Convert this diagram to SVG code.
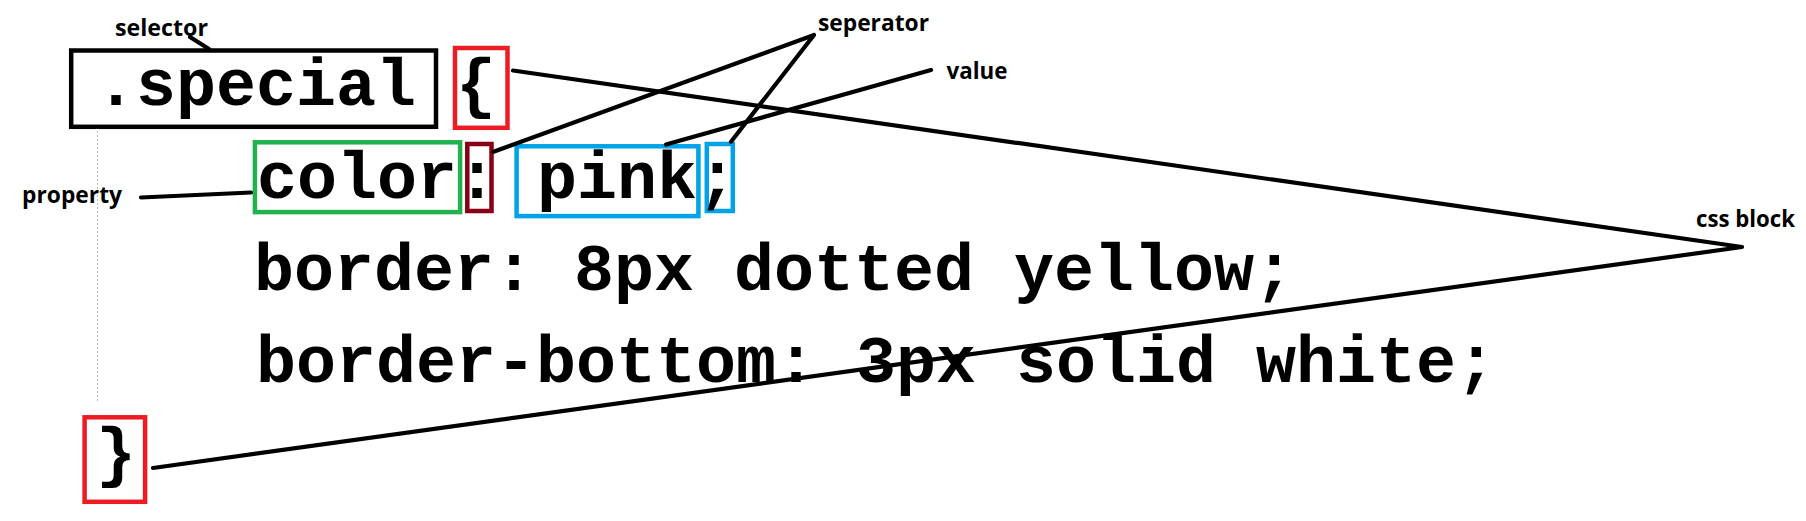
<svg xmlns="http://www.w3.org/2000/svg" width="1806" height="521" viewBox="0 0 1806 521">
<style>
.code{font-family:"Liberation Mono","Courier New",monospace;font-weight:bold;font-size:66.67px;fill:#000}
.lbl{font-family:"Open Sans","Liberation Sans",sans-serif;font-weight:bold;font-size:23px;fill:#000}
.box{fill:none;stroke-width:4.5}
.conn{fill:none;stroke:#000;stroke-width:4.2;stroke-linecap:round;stroke-linejoin:round}
</style>
<rect width="1806" height="521" fill="#fff"/>
<line x1="97.5" y1="131" x2="97.5" y2="403" stroke="#bdbdbd" stroke-width="1" stroke-dasharray="2 2"/>
<g id="selector">
<rect class="box" x="71.2" y="50.5" width="364.8" height="76.3" stroke="#000"/>
<text class="code" x="96" y="105">.special</text>
</g>
<g id="open-brace">
<rect class="box" x="455" y="48" width="52.5" height="79.8" stroke="#ED1C24"/>
<text class="code" x="456" y="105">{</text>
</g>
<g id="property-color">
<rect class="box" x="254.9" y="142.3" width="205.2" height="69.8" stroke="#22B14C"/>
<text class="code" x="257" y="198">color</text>
</g>
<g id="colon">
<rect class="box" x="467.3" y="144" width="24.2" height="67" stroke="#880015"/>
<text class="code" x="457" y="198">:</text>
</g>
<g id="value-pink">
<rect class="box" x="516.6" y="146.3" width="181.8" height="69.8" stroke="#00A2E8"/>
<text class="code" x="537" y="198">pink</text>
</g>
<g id="semicolon">
<rect class="box" x="706.8" y="144" width="26" height="67" stroke="#00A2E8"/>
<text class="code" x="697" y="198">;</text>
</g>
<g id="code-lines">
<text class="code" x="254" y="290">border: 8px dotted yellow;</text>
<text class="code" x="256" y="382">border-bottom: 3px solid white;</text>
</g>
<g id="close-brace">
<rect class="box" x="84.6" y="417.3" width="60.5" height="84.5" stroke="#ED1C24"/>
<text class="code" x="96" y="474">}</text>
</g>
<g id="label-selector"><text class="lbl" x="115" y="36" textLength="93" lengthAdjust="spacingAndGlyphs">selector</text></g>
<g id="label-property"><text class="lbl" x="22" y="203" textLength="100" lengthAdjust="spacingAndGlyphs">property</text></g>
<g id="label-seperator"><text class="lbl" x="818" y="31" textLength="111" lengthAdjust="spacingAndGlyphs">seperator</text></g>
<g id="label-value"><text class="lbl" x="946.5" y="79" textLength="61" lengthAdjust="spacingAndGlyphs">value</text></g>
<g id="label-css-block"><text class="lbl" x="1696" y="227" textLength="99" lengthAdjust="spacingAndGlyphs">css block</text></g>
<g id="connectors">
<line class="conn" x1="190" y1="37" x2="209" y2="49"/>
<line class="conn" x1="141" y1="197.5" x2="251" y2="192.5"/>
<path class="conn" d="M513,70.5 L1742,247 L153,468"/>
<path class="conn" d="M493.5,151.7 L814,35 L731,141.7"/>
<line class="conn" x1="931" y1="70" x2="666" y2="144.5"/>
</g>
</svg>
